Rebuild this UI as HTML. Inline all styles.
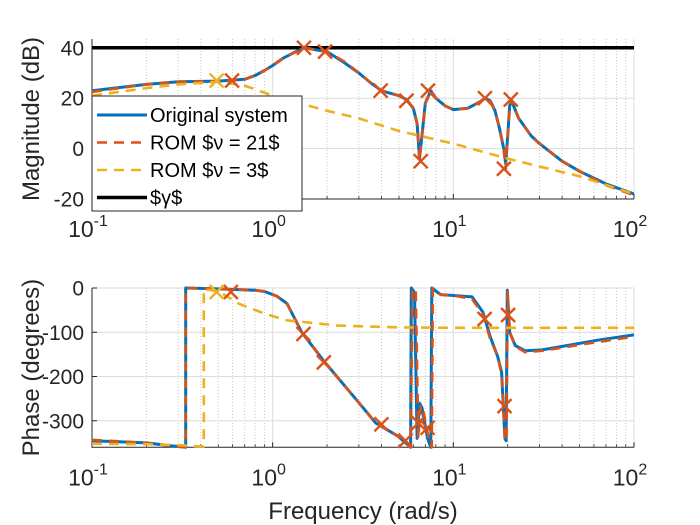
<!DOCTYPE html>
<html><head><meta charset="utf-8"><style>
html,body{margin:0;padding:0;background:#fff;}
svg{display:block;font-family:"Liberation Sans",Arial,sans-serif;}
</style></head><body>
<svg id="fig" width="700" height="525" viewBox="0 0 700 525"></svg>
<script>
const magBlueF=[0.1,0.2,0.3,0.5,0.7,0.8,0.9,1.0,1.15,1.3,1.5,1.8,2,2.5,3,3.5,4,5,5.5,6,6.3,6.5,6.7,7,7.5,8,9,10,12,14,15,16,17,18,19,19.5,20,20.5,21,23,27,30,40,50,70,100];
const magBlue=[23,25.5,26.5,26.8,27.5,29,31,33,36,38,40,39,38.5,34,30,26,23,21,19.5,16,10,-4,5,18,23,20,17,15.5,16,18.5,20,19,15,8,0,-6,5,17,19,12,5,2,-5,-9,-14,-18];
const magRedF=[0.1,0.2,0.3,0.5,0.7,0.8,0.9,1.0,1.15,1.3,1.5,1.8,2,2.5,3,3.5,4,5,5.5,6,6.3,6.5,6.7,7,7.5,8,9,10,12,14,15,16,17,18,19,19.5,20,20.5,21,23,27,30,40,50,70,100];
const magRed=[22.5,25.5,26.5,26.8,27.5,29,31,33,36,38,40,39,38.5,34.5,30,26,23,21,19.5,16,10,-5,5,18,23,20,17,15.5,16,18.5,20,19,15,8,0,-8,5,17,19.5,12,5,2,-5,-9,-14.5,-18.5];
const magYelF=[0.1,0.2,0.3,0.5,0.7,1,2,3,5,10,20,50,100];
const magYel=[21,24,25.5,26.5,25,21,15,12,7,2,-4,-11,-18];
const magMarkF=[0.596,1.49,1.95,3.96,5.5,6.6,7.24,14.96,19.05,20.8];
const magMark=[27,40,38.5,23,19,-5,23,20,-8,19.5];
const magYelMarkF=[0.49];
const magYelMark=[27];
const gammaF=[0.1,100];
const gammaV=[40,40];

const phBlueF=[0.1,0.2,0.28,0.33,0.33,0.5,0.8,0.9,1.05,1.2,1.45,1.92,2.94,3.72,4.94,5.8,5.85,6.1,6.3,6.5,6.7,7.2,7.5,7.6,8.5,10,12.7,14.6,16,17.6,18.5,19.3,19.6,19.9,20.5,22,25,31,63,100];
const phBlue=[-345,-350,-357,-360,0,-2,-5,-8,-18,-35,-100,-165,-255,-305,-335,-360,0,-10,-340,-260,-270,-340,-360,0,-15,-17,-20,-55,-110,-155,-190,-340,-345,-5,-100,-130,-142,-140,-118,-106];
const phRedF=[0.1,0.2,0.28,0.33,0.33,0.5,0.8,0.9,1.05,1.2,1.45,1.92,2.94,3.72,4.94,5.8,5.95,6.2,6.4,6.6,6.8,7.3,7.6,7.7,8.5,10,12.7,14.6,16,17.6,18.5,19.3,19.7,20.0,20.5,22,25,31,63,100];
const phRed=[-343,-350,-357,-360,0,-2,-5,-8,-18,-35,-100,-165,-255,-305,-335,-360,0,-10,-340,-265,-275,-340,-360,0,-15,-17,-25,-60,-115,-155,-195,-340,-345,-8,-100,-132,-145,-142,-122,-110];
const phYelF=[0.1,0.2,0.3,0.389,0.416,0.416,0.5,0.652,0.906,1.2,2.3,5,10,100];
const phYel=[-352,-353,-355,-358,-358,-3,-7,-36,-58,-73,-85,-89,-90,-90];
const phMarkF=[0.587,1.48,1.92,4.0,5.43,6.4,7.2,14.9,20.1,19.2];
const phMark=[-9,-104,-168,-308,-345,-305,-316,-70,-61,-267];
const phYelMarkF=[0.49];
const phYelMark=[-9];
const xTicks=[-1,0,1,2];
const magTicks=[-20,0,20,40];
const phTicks=[-300,-200,-100,0];

const NS="http://www.w3.org/2000/svg";
const svg=document.getElementById('fig');
const X0=92,X1=634;
const xs=f=>X0+(Math.log10(f)+1)/3*(X1-X0);
const ax1={top:39,bot:199,vmin:-20,vmax:43.5};
const ax2={top:288,bot:447.3,vmin:-360,vmax:0};
function ys(ax,v){return ax.bot-(v-ax.vmin)/(ax.vmax-ax.vmin)*(ax.bot-ax.top);}
function mk(tag,attrs,parent){const e=document.createElementNS(NS,tag);for(const k in attrs)e.setAttribute(k,attrs[k]);(parent||svg).appendChild(e);return e;}
const C={blue:'#0072BD',red:'#D95319',yel:'#EDB120'};

function axes(ax,ticks,name,ylabel){
  const g=mk('g',{});
  
  
  mk('rect',{x:X0,y:ax.top,width:X1-X0,height:ax.bot-ax.top,fill:'#fff'},g);
  for(let d=-1;d<2;d++)for(let m=2;m<=9;m++){const x=xs(m*Math.pow(10,d));
    const l=mk('line',{x1:x,x2:x,y1:ax.top,y2:ax.bot,stroke:'#c8c8c8','stroke-width':1,'stroke-dasharray':'1,2'},g);
    
    
    mk('line',{x1:x,x2:x,y1:ax.bot,y2:ax.bot-3,stroke:'#262626','stroke-width':0.8},g);}
  xTicks.forEach(e=>{const x=xs(Math.pow(10,e));
    const l=mk('line',{x1:x,x2:x,y1:ax.top,y2:ax.bot,stroke:'#dcdcdc','stroke-width':1},g);
    
    
    mk('line',{x1:x,x2:x,y1:ax.bot,y2:ax.bot-5,stroke:'#262626','stroke-width':1},g);
    const t=mk('text',{x:x-4,y:ax.bot+38,'font-size':23,fill:'#262626','text-anchor':'middle'},g);
    
    
    t.textContent='10';
    const s=mk('tspan',{dy:-11,'font-size':16},t);s.textContent=String(e);});
  ticks.forEach(v=>{const y=ys(ax,v);
    const l=mk('line',{x1:X0,x2:X1,y1:y,y2:y,stroke:'#dcdcdc','stroke-width':1},g);
    
    
    mk('line',{x1:X0,x2:X0+5,y1:y,y2:y,stroke:'#262626','stroke-width':1},g);
    const t=mk('text',{x:X0-8,y:y+7.5,'font-size':21,fill:'#262626','text-anchor':'end'},g);
    
    
    t.textContent=String(v);});
  mk('path',{d:`M${X0},${ax.top}V${ax.bot}H${X1}`,fill:'none',stroke:'#262626','stroke-width':1},g);
  const cy=(ax.top+ax.bot)/2;
  const yl=mk('text',{x:0,y:0,transform:`translate(39,${cy}) rotate(-90)`,'font-size':24,fill:'#262626','text-anchor':'middle'},g);
  
  
  yl.textContent=ylabel;
}
function line(ax,F,V,color,dash,w,name,clip){
  let d='';F.forEach((f,i)=>{d+=(i?'L':'M')+xs(f).toFixed(1)+','+ys(ax,V[i]).toFixed(1);});
  const p=mk('path',{d,fill:'none',stroke:color,'stroke-width':w,'stroke-dasharray':dash||'none','clip-path':clip,'stroke-linejoin':'round'});
  
  
}
function marks(ax,F,V,color,name){
  F.forEach((f,i)=>{const x=xs(f),y=ys(ax,V[i]),r=7;
    const p=mk('path',{d:`M${x-r},${y-r}L${x+r},${y+r}M${x-r},${y+r}L${x+r},${y-r}`,stroke:color,'stroke-width':2.4,fill:'none'});
    
    });
}
const defs=mk('defs',{});
[ax1,ax2].forEach((ax,i)=>{const c=mk('clipPath',{id:'c'+i},defs);mk('rect',{x:X0,y:ax.top-2,width:X1-X0,height:ax.bot-ax.top+4},c);});

axes(ax1,magTicks,'magnitude-axes','Magnitude (dB)');
line(ax1,gammaF,gammaV,'#000','',3.5,'gamma-line','url(#c0)');
line(ax1,magBlueF,magBlue,C.blue,'',3,'original-magnitude','url(#c0)');
line(ax1,magRedF,magRed,C.red,'10,7',2.6,'rom21-magnitude','url(#c0)');
line(ax1,magYelF,magYel,C.yel,'10,7',2.6,'rom3-magnitude','url(#c0)');
marks(ax1,magMarkF,magMark,C.red,'rom21-interp-marker');
marks(ax1,magYelMarkF,magYelMark,C.yel,'rom3-interp-marker');

axes(ax2,phTicks,'phase-axes','Phase (degrees)');
line(ax2,phBlueF,phBlue,C.blue,'',3,'original-phase','url(#c1)');
line(ax2,phRedF,phRed,C.red,'10,7',2.6,'rom21-phase','url(#c1)');
line(ax2,phYelF,phYel,C.yel,'10,7',2.6,'rom3-phase','url(#c1)');
marks(ax2,phMarkF,phMark,C.red,'rom21-phase-marker');
marks(ax2,phYelMarkF,phYelMark,C.yel,'rom3-phase-marker');

const xl=mk('text',{x:363,y:519,'font-size':24,fill:'#262626','text-anchor':'middle'});


xl.textContent='Frequency (rad/s)';

const lg=mk('g',{});


mk('rect',{x:92,y:96,width:210,height:115,fill:'#fff',stroke:'#262626','stroke-width':1},lg);
const entries=[['Original system',C.blue,'',3],['ROM $\u03BD = 21$',C.red,'10,7',2.6],['ROM $\u03BD = 3$',C.yel,'10,7',2.6],['$\u03B3$','#000','',3.5]];
entries.forEach((e,i)=>{const y=115+i*27.5;
  const g=mk('g',{},lg);
  
  
  mk('line',{x1:97,x2:147,y1:y,y2:y,stroke:e[1],'stroke-width':e[3],'stroke-dasharray':e[2]||'none'},g);
  const t=mk('text',{x:150,y:y+7,'font-size':20,fill:'#000'},g);
  t.textContent=e[0];});
</script>
</body></html>
